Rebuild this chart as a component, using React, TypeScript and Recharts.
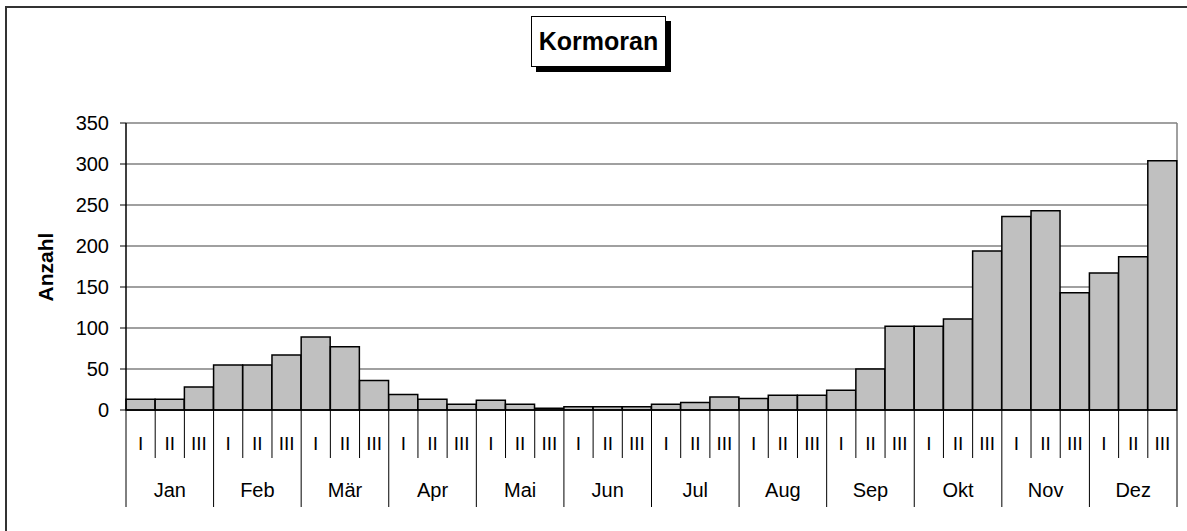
import { BarChart, Bar, XAxis, YAxis, CartesianGrid } from 'recharts';

const MONTHS = ['Jan', 'Feb', 'Mär', 'Apr', 'Mai', 'Jun', 'Jul', 'Aug', 'Sep', 'Okt', 'Nov', 'Dez'];
const DECADES = ['I', 'II', 'III'];
// Kormoran counts per ten-day period (I, II, III of each month)
const COUNTS = [
  13, 13, 28,
  55, 55, 67,
  89, 77, 36,
  19, 13, 7,
  12, 7, 2,
  4, 4, 4,
  7, 9, 16,
  14, 18, 18,
  24, 50, 102,
  102, 111, 194,
  236, 243, 143,
  167, 187, 304,
];
const Y_TICKS = [0, 50, 100, 150, 200, 250, 300, 350];

const FONT = '"Liberation Sans", Arial, sans-serif';

const chartData = COUNTS.map((count, i) => ({
  key: `${MONTHS[Math.floor(i / 3)]}-${DECADES[i % 3]}`,
  month: MONTHS[Math.floor(i / 3)],
  decade: DECADES[i % 3],
  count,
}));

function PeriodTick(props: any) {
  const { x, y, payload, index } = props;
  const half = payload && payload.offset ? payload.offset : (1177 - 126) / 72;
  const row = chartData[index];
  const left = x - half;
  const isMonthStart = index % 3 === 0;
  return (
    <g>
      <line x1={left} y1={y} x2={left} y2={isMonthStart ? y + 97 : y + 48} stroke="#000" strokeWidth={1} />
      {index === chartData.length - 1 && (
        <line x1={x + half} y1={y} x2={x + half} y2={y + 97} stroke="#000" strokeWidth={1} />
      )}
      <text x={x} y={y + 33} textAnchor="middle" dominantBaseline="central" fontSize={19} fontFamily={FONT} fill="#000">
        {row.decade}
      </text>
      {index % 3 === 1 && (
        <text x={x} y={y + 80} textAnchor="middle" dominantBaseline="central" fontSize={20} fontFamily={FONT} fill="#000">
          {row.month}
        </text>
      )}
    </g>
  );
}

export default function App() {
  return (
    <div style={{ position: 'absolute', left: 0, top: 0, width: 1187, height: 531, background: '#fff', overflow: 'hidden' }}>
      <div
        style={{
          position: 'absolute',
          left: 5,
          top: 6,
          width: 1400,
          height: 700,
          borderTop: '2px solid #333',
          borderLeft: '2px solid #333',
        }}
      />
      <BarChart
        width={1187}
        height={531}
        data={chartData}
        margin={{ top: 123, right: 10, bottom: 0, left: 0 }}
        barCategoryGap={0}
        style={{ position: 'absolute', left: 0, top: 0 }}
      >
        <CartesianGrid
          stroke="#808080"
          strokeWidth={1.5}
          verticalCoordinatesGenerator={({ offset }: any) => [offset.left + offset.width]}
        />
        <XAxis
          dataKey="key"
          interval={0}
          height={121}
          tickSize={0}
          tickMargin={0}
          axisLine={{ stroke: '#000', strokeWidth: 1.5 }}
          tickLine={false}
          tick={<PeriodTick />}
        />
        <YAxis
          width={126}
          domain={[0, 350]}
          ticks={Y_TICKS}
          interval={0}
          tickSize={6}
          tickMargin={11}
          axisLine={{ stroke: '#000', strokeWidth: 1.5 }}
          tickLine={{ stroke: '#000' }}
          tick={{ fill: '#000', fontSize: 20, fontFamily: FONT }}
        />
        <Bar dataKey="count" fill="#c0c0c0" stroke="#000" strokeWidth={1.5} isAnimationActive={false} />
      </BarChart>
      <div
        style={{
          position: 'absolute',
          left: 46,
          top: 267,
          transform: 'translate(-50%, -50%) rotate(-90deg)',
          fontFamily: FONT,
          fontWeight: 'bold',
          fontSize: 21,
          whiteSpace: 'nowrap',
          color: '#000',
        }}
      >
        Anzahl
      </div>
      <div
        style={{
          position: 'absolute',
          left: 531,
          top: 16,
          width: 133,
          height: 49,
          border: '1px solid #000',
          boxShadow: '5px 5px 0 #000',
          background: '#fff',
          display: 'flex',
          alignItems: 'center',
          justifyContent: 'center',
          fontFamily: FONT,
          fontWeight: 'bold',
          fontSize: 25,
          color: '#000',
        }}
      >
        Kormoran
      </div>
    </div>
  );
}
